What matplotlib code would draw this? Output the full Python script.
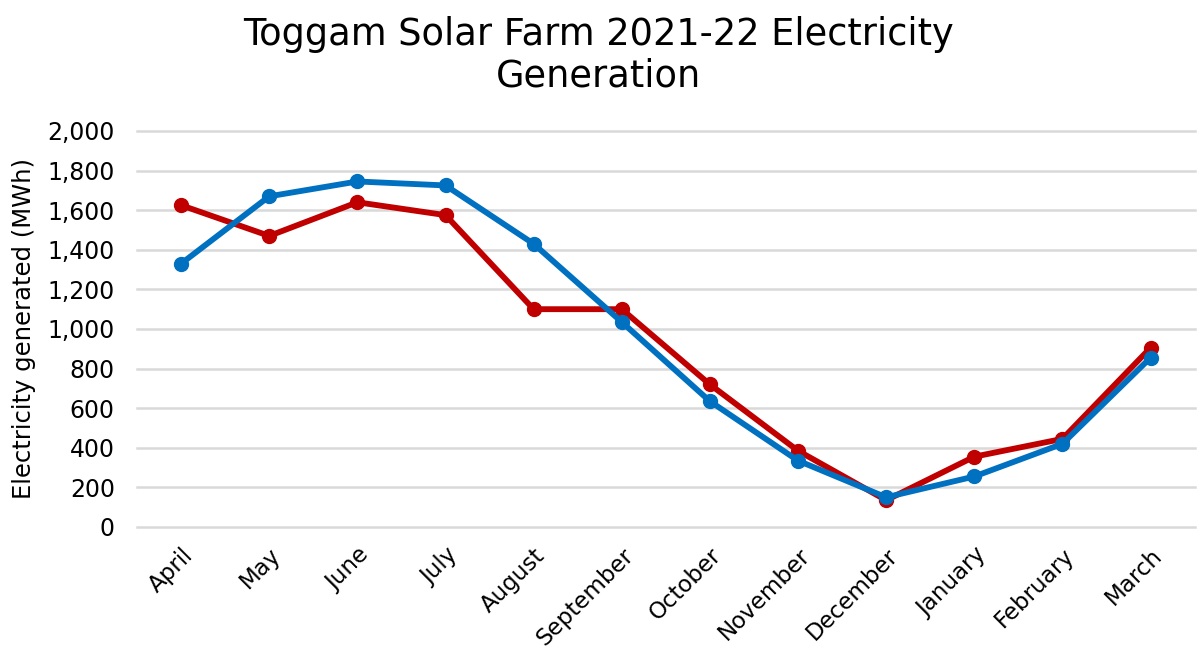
import matplotlib.pyplot as plt

# Monthly generation (MWh)
months = ["April", "May", "June", "July", "August", "September", "October",
          "November", "December", "January", "February", "March"]
red_series = [1625, 1470, 1640, 1575, 1100, 1100, 720, 385, 135, 355, 445, 905]
blue_series = [1330, 1670, 1745, 1725, 1430, 1035, 635, 335, 150, 255, 420, 855]
y_ticks = [0, 200, 400, 600, 800, 1000, 1200, 1400, 1600, 1800, 2000]

fig = plt.figure(figsize=(11.97, 6.51), dpi=100)
ax = fig.add_axes([0.1145, 0.1905, 0.8835, 0.6083])

x = range(len(months))
ax.plot(x, red_series, color="#C00000", linewidth=4.2, marker="o", markersize=10)
ax.plot(x, blue_series, color="#0070C0", linewidth=4.2, marker="o", markersize=10)

ax.set_xlim(-0.5, len(months) - 0.5)
ax.set_ylim(0, 2000)
ax.set_yticks(y_ticks)
ax.set_yticklabels([f"{v:,}" for v in y_ticks], fontsize=17)
ax.set_xticks(list(x))
ax.set_xticklabels(months, rotation=45, ha="right", rotation_mode="anchor", fontsize=16.5)
ax.tick_params(axis="y", length=0, pad=16)
ax.tick_params(axis="x", length=0, pad=12)

ax.grid(axis="y", color="#D9D9D9", linewidth=1.8)
for gl in ax.get_ygridlines():
    gl.set_clip_on(False)
ax.set_axisbelow(True)
for s in ax.spines.values():
    s.set_visible(False)

ax.set_ylabel("Electricity generated (MWh)", fontsize=17.5, labelpad=8)
fig.suptitle("Toggam Solar Farm 2021-22 Electricity\nGeneration", fontsize=26.5,
             y=0.975, x=0.5, linespacing=1.15)

fig.savefig("out.png", dpi=100)
